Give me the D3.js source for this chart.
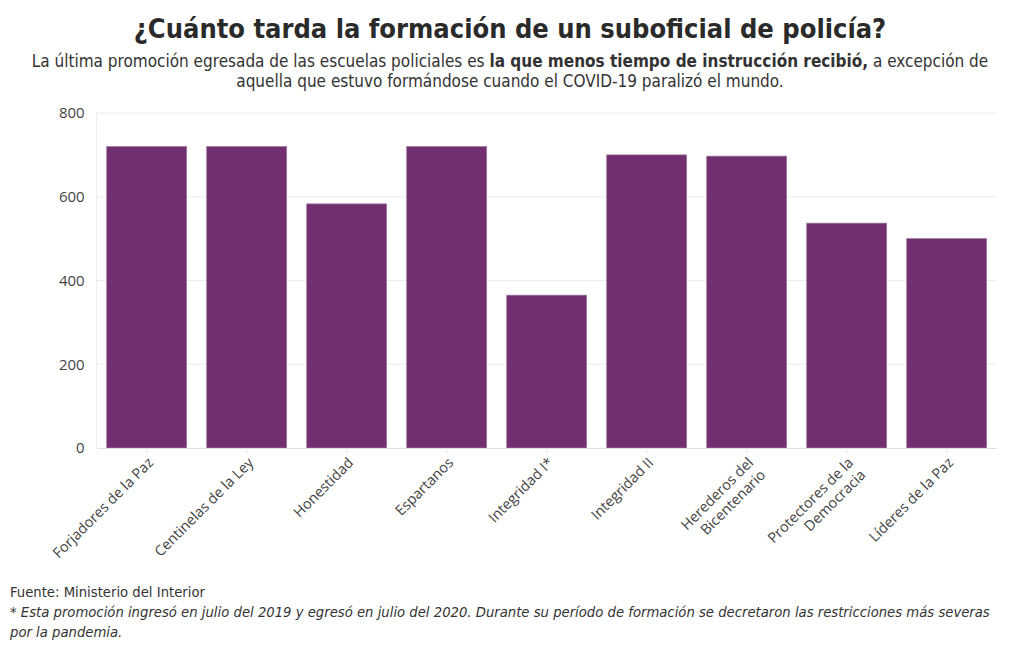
<!DOCTYPE html>
<html><head><meta charset="utf-8">
<script src="https://cdn.jsdelivr.net/npm/d3@7"></script>
<style>
body{margin:0;background:#fff;}
svg{display:block;}
</style></head>
<body>
<svg id="chart" width="1020" height="650"></svg>
<script>
const categories = ["Forjadores de la Paz","Centinelas de la Ley","Honestidad","Espartanos","Integridad I*","Integridad II","Herederos del\nBicentenario","Protectores de la\nDemocracia","Líderes de la Paz"];
const days = [720, 720, 583, 720, 365, 700, 697, 537, 500];
const yTicks = [0, 200, 400, 600, 800];

const svg = d3.select("#chart");
const condensed = "'DejaVu Sans Condensed',sans-serif";
const m = {left: 96.7, right: 996.7, top: 113, bottom: 448};

const x = d3.scaleBand().domain(categories).range([m.left, m.right]).paddingInner(0.2).paddingOuter(0.1);
const y = d3.scaleLinear().domain([0, 800]).range([m.bottom, m.top]);

// title
svg.append("text").attr("x", 510).attr("y", 38).attr("text-anchor", "middle")
  .style("font-family", condensed).style("font-weight", "bold").style("font-size", "27px").style("fill", "#2a2a2a")
  .text("¿Cuánto tarda la formación de un suboficial de policía?");
const sub = svg.append("text").attr("x", 510).attr("y", 67).attr("text-anchor", "middle")
  .style("font-family", condensed).style("font-size", "17px").style("fill", "#333");
sub.append("tspan").text("La última promoción egresada de las escuelas policiales es ");
sub.append("tspan").style("font-weight", "bold").text("la que menos tiempo de instrucción recibió,");
sub.append("tspan").text(" a excepción de");
svg.append("text").attr("x", 510).attr("y", 87).attr("text-anchor", "middle")
  .style("font-family", condensed).style("font-size", "17px").style("fill", "#333")
  .text("aquella que estuvo formándose cuando el COVID-19 paralizó el mundo.");

// grid
svg.append("g").selectAll("line").data(yTicks.slice(1)).join("line")
  .attr("x1", m.left).attr("x2", m.right).attr("y1", d => y(d)).attr("y2", d => y(d))
  .attr("stroke", "#ececec").attr("stroke-width", 1);
svg.append("line").attr("x1", m.left).attr("x2", m.left).attr("y1", m.top).attr("y2", m.bottom)
  .attr("stroke", "#e8ecef");

// y axis
const yAxis = svg.append("g").attr("transform", `translate(${m.left},0)`)
  .call(d3.axisLeft(y).tickValues(yTicks).tickSize(0).tickPadding(12));
yAxis.select(".domain").remove();
yAxis.selectAll("text").style("font-family", "'Open Sans',sans-serif").style("font-size", "15px").style("fill", "#444");

// bars
svg.append("g").selectAll("rect").data(days).join("rect")
  .attr("x", (d, i) => x(categories[i])).attr("width", x.bandwidth())
  .attr("y", d => y(d)).attr("height", d => y(0) - y(d))
  .attr("fill", "#722f70").attr("stroke", "#a07a9f").attr("stroke-width", 0.7);

// x axis
const xAxis = svg.append("g").attr("transform", `translate(0,${m.bottom})`)
  .call(d3.axisBottom(x).tickSize(5).tickSizeOuter(0).tickFormat(""));
xAxis.select(".domain").attr("stroke", "#e2dde2");
xAxis.selectAll(".tick line").attr("stroke", "#e6e6e6");

const labels = svg.append("g").selectAll("text").data(categories).join("text")
  .attr("transform", d => `translate(${x(d) + x.bandwidth() / 2 + 4},${m.bottom + 12}) rotate(-45)`)
  .attr("text-anchor", "end")
  .style("font-family", "'Open Sans',sans-serif").style("font-size", "14.4px").style("fill", "#444");
labels.each(function(d) {
  const parts = d.split("\n");
  const t = d3.select(this);
  parts.forEach((p, i) => {
    t.append("tspan").attr("x", 0).attr("dy", i === 0 ? "0.35em" : "1.2em").text(p);
  });
});

// footer
svg.append("text").attr("x", 10).attr("y", 597)
  .style("font-family", condensed).style("font-size", "14.7px").style("fill", "#333")
  .text("Fuente: Ministerio del Interior");
svg.append("text").attr("x", 10).attr("y", 617)
  .style("font-family", condensed).style("font-size", "14.7px").style("font-style", "italic").style("fill", "#333")
  .text("* Esta promoción ingresó en julio del 2019 y egresó en julio del 2020. Durante su período de formación se decretaron las restricciones más severas");
svg.append("text").attr("x", 10).attr("y", 637)
  .style("font-family", condensed).style("font-size", "14.7px").style("font-style", "italic").style("fill", "#333")
  .text("por la pandemia.");
</script>
</body></html>
